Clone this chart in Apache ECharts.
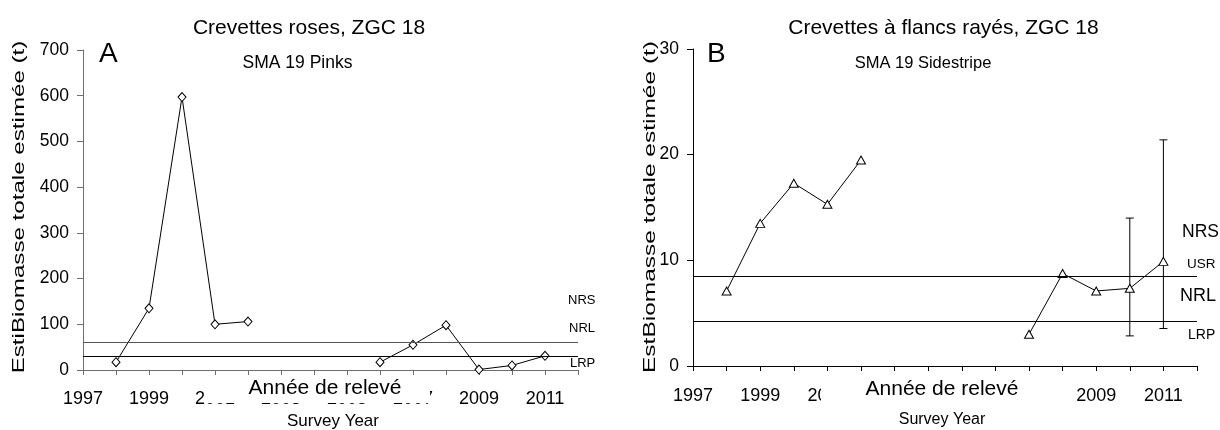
<!DOCTYPE html>
<html>
<head>
<meta charset="utf-8">
<script src="https://cdn.jsdelivr.net/npm/echarts@6/dist/echarts.min.js"></script>
<style>
html,body{margin:0;padding:0;background:#fff;}
#chart{width:1220px;height:430px;}
</style>
</head>
<body>
<div id="chart"></div>
<script>
// ---- Data ----
const yearsA = [1998, 1999, 2000, 2001, 2002, 2003, 2004, 2005, 2006, 2007, 2008, 2009, 2010, 2011];
const pinks  = [17, 135, 597, 100, 106, null, null, null, 17, 55, 98, 1, 10, 31];
const pinkRefs = [60, 30]; // NRL, LRP

const yearsB = [1998, 1999, 2000, 2001, 2002, 2003, 2004, 2005, 2006, 2007, 2008, 2009, 2010, 2011];
const sidestripe = [7.1, 13.5, 17.3, 15.3, 19.5, null, null, null, null, 3.0, 8.75, 7.1, 7.35, 9.9];
const errYears = [2010, 2011];
const errLow  = [2.85, 3.55];
const errHigh = [14.0, 21.4];
const sideRefs = [8.45, 4.25]; // USR, LRP

const yTicksA = [0, 700, 100];
const yTicksB = [0, 30, 10];
const xRange = [1997, 2012];

const FONT = '"Liberation Sans", Arial, sans-serif';

const chart = echarts.init(document.getElementById('chart'), null, {renderer: 'canvas'});

function xAxisCfg(gridIndex, color, margin, fs) {
  return {
    type: 'value', gridIndex, min: xRange[0], max: xRange[1], interval: 1,
    axisLine: {show: true, lineStyle: {color, width: 1}},
    axisTick: {show: true, inside: false, length: 5, lineStyle: {color}},
    splitLine: {show: false},
    axisLabel: {
      margin, color: '#000', fontFamily: FONT, fontSize: fs,
      formatter: v => ((v - 1997) % 2 === 0 && v < 2012) ? String(v) : ''
    }
  };
}
function yAxisCfg(gridIndex, t, color, fs) {
  return {
    type: 'value', gridIndex, min: t[0], max: t[1], interval: t[2],
    axisLine: {show: true, lineStyle: {color, width: 1}},
    axisTick: {show: true, length: 6, lineStyle: {color}},
    splitLine: {show: false},
    axisLabel: {margin: 14, color: '#000', fontFamily: FONT, fontSize: fs}
  };
}

function refLines(vals, colors) {
  return {
    silent: true, symbol: 'none', label: {show: false},
    data: vals.map((v, i) => ({yAxis: v, lineStyle: {color: colors[i], width: 1, type: 'solid'}}))
  };
}

const option = {
  animation: false,
  backgroundColor: '#fff',
  title: [
    {text: 'Crevettes roses, ZGC 18', left: 304, top: 13, textAlign: 'center',
     textStyle: {fontFamily: FONT, fontSize: 21, fontWeight: 'normal', color: '#000'}},
    {text: 'SMA 19 Pinks', left: 292.5, top: 49, textAlign: 'center',
     textStyle: {fontFamily: FONT, fontSize: 17.5, fontWeight: 'normal', color: '#000'}},
    {text: 'Crevettes à flancs rayés, ZGC 18', left: 938.5, top: 13, textAlign: 'center',
     textStyle: {fontFamily: FONT, fontSize: 21, fontWeight: 'normal', color: '#000'}},
    {text: 'SMA 19 Sidestripe', left: 918, top: 50, textAlign: 'center',
     textStyle: {fontFamily: FONT, fontSize: 16.5, fontWeight: 'normal', color: '#000'}}
  ],
  grid: [
    {left: 83, top: 50, width: 495, height: 320},
    {left: 693, top: 49, width: 504, height: 317}
  ],
  xAxis: [xAxisCfg(0, '#6e6e6e', 20, 18), xAxisCfg(1, '#000', 21, 18)],
  yAxis: [yAxisCfg(0, yTicksA, '#6e6e6e', 17.5), yAxisCfg(1, yTicksB, '#000', 17.5)],
  series: [
    {
      type: 'line', xAxisIndex: 0, yAxisIndex: 0,
      data: yearsA.map((y, i) => [y, pinks[i]]),
      connectNulls: false,
      symbol: 'diamond', symbolSize: [8, 9],
      itemStyle: {color: '#fff', borderColor: '#000', borderWidth: 1},
      lineStyle: {color: '#000', width: 1},
      markLine: refLines(pinkRefs, ['#555', '#000']),
      z: 3
    },
    {
      type: 'line', xAxisIndex: 1, yAxisIndex: 1,
      data: yearsB.map((y, i) => [y, sidestripe[i]]),
      connectNulls: false,
      symbol: 'triangle', symbolSize: [9, 8],
      itemStyle: {color: '#fff', borderColor: '#000', borderWidth: 1},
      lineStyle: {color: '#000', width: 1},
      markLine: refLines(sideRefs, ['#000', '#000']),
      z: 3
    },
    {
      type: 'custom', xAxisIndex: 1, yAxisIndex: 1,
      data: errYears.map((y, i) => [y, errLow[i], errHigh[i]]),
      renderItem: function (params, api) {
        const lo = api.coord([api.value(0), api.value(1)]);
        const hi = api.coord([api.value(0), api.value(2)]);
        const w = 4;
        const st = {stroke: '#000', lineWidth: 1};
        return {type: 'group', children: [
          {type: 'line', shape: {x1: hi[0], y1: hi[1], x2: lo[0], y2: lo[1]}, style: st},
          {type: 'line', shape: {x1: hi[0] - w, y1: hi[1], x2: hi[0] + w, y2: hi[1]}, style: st},
          {type: 'line', shape: {x1: lo[0] - w, y1: lo[1], x2: lo[0] + w, y2: lo[1]}, style: st}
        ]};
      },
      z: 2
    }
  ],
  graphic: [
    // panel letters
    {type: 'text', left: 99, top: 40, style: {text: 'A', font: '28px ' + FONT, fill: '#000'}},
    {type: 'text', left: 707, top: 40, style: {text: 'B', font: '28px ' + FONT, fill: '#000'}},
    // y-axis titles (stretched along the text, as in the source figure)
    {type: 'text', x: 19, y: 207, rotation: Math.PI / 2, scaleX: 1.42,
     style: {text: 'EstiBiomasse totale estimée (t)', font: '17px ' + FONT, fill: '#000', align: 'center', verticalAlign: 'middle'}},
    {type: 'text', x: 650, y: 207, rotation: Math.PI / 2, scaleX: 1.44,
     style: {text: 'EstBiomasse totale estimée (t)', font: '17px ' + FONT, fill: '#000', align: 'center', verticalAlign: 'middle'}},
    // x-axis title boxes
    {type: 'rect', shape: {x: 204, y: 376, width: 226, height: 27}, style: {fill: '#fff'}, z: 100},
    {type: 'text', x: 325, y: 388, z: 101,
     style: {text: 'Année de relevé', font: '21px ' + FONT, fill: '#000', align: 'center', verticalAlign: 'middle'}},
    {type: 'rect', shape: {x: 821, y: 376, width: 254, height: 31}, style: {fill: '#fff'}, z: 100},
    {type: 'text', x: 942, y: 389, z: 101,
     style: {text: 'Année de relevé', font: '21px ' + FONT, fill: '#000', align: 'center', verticalAlign: 'middle'}},
    {type: 'text', x: 333, y: 421, z: 101,
     style: {text: 'Survey Year', font: '17px ' + FONT, fill: '#000', align: 'center', verticalAlign: 'middle'}},
    {type: 'text', x: 942, y: 420, z: 101,
     style: {text: 'Survey Year', font: '16px ' + FONT, fill: '#000', align: 'center', verticalAlign: 'middle'}},
    // reference labels A
    {type: 'text', x: 568, y: 300, style: {text: 'NRS', font: '13px ' + FONT, fill: '#000', verticalAlign: 'middle'}},
    {type: 'text', x: 569, y: 328, style: {text: 'NRL', font: '13px ' + FONT, fill: '#000', verticalAlign: 'middle'}},
    {type: 'text', x: 570, y: 363, style: {text: 'LRP', font: '13px ' + FONT, fill: '#000', verticalAlign: 'middle'}},
    // reference labels B
    {type: 'text', x: 1182, y: 232, style: {text: 'NRS', font: '17.5px ' + FONT, fill: '#000', verticalAlign: 'middle'}},
    {type: 'text', x: 1187, y: 264, style: {text: 'USR', font: '13.5px ' + FONT, fill: '#000', verticalAlign: 'middle'}},
    {type: 'text', x: 1180, y: 296, style: {text: 'NRL', font: '18px ' + FONT, fill: '#000', verticalAlign: 'middle'}},
    {type: 'text', x: 1188, y: 335, style: {text: 'LRP', font: '14px ' + FONT, fill: '#000', verticalAlign: 'middle'}}
  ]
};
chart.setOption(option);
</script>
</body>
</html>
